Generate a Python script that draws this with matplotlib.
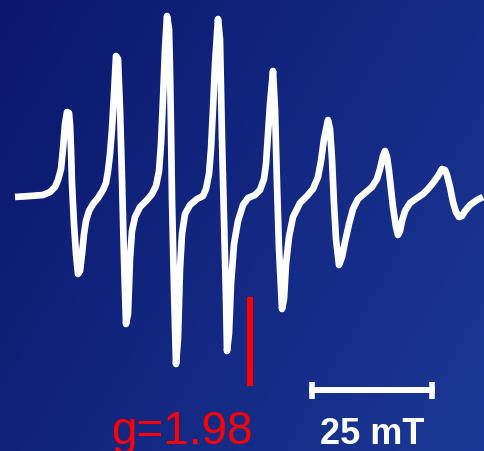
import numpy as np
import matplotlib
matplotlib.use("Agg")
import matplotlib.pyplot as plt

# Traced EPR derivative spectrum: (field position, pixel-height trace); baseline at 198
field = [15, 30, 43, 50, 55, 58, 61, 63, 65, 67, 69, 70, 71, 72, 74, 76, 78, 80, 82,
         84, 86, 89, 93, 98, 103, 106, 108, 110, 112, 114, 116, 118, 120, 122, 124,
         126, 128, 130, 132, 135, 140, 147, 152, 156, 159, 161, 163, 165, 167, 169,
         170, 171, 172, 174, 176, 178, 180, 182, 185, 190, 197, 203, 206, 209, 211,
         213, 215, 218, 220, 221, 222, 224, 226, 227, 229, 231, 234, 238, 243, 248,
         255, 260, 264, 266, 268, 270, 273, 275, 277, 279, 282, 284, 286, 289, 293,
         300, 307, 313, 318, 321, 324, 328, 330, 332, 334, 336, 339, 342, 345, 349,
         353, 358, 365, 372, 377, 380, 383, 385, 387, 389, 391, 393, 396, 398, 400,
         402, 405, 410, 417, 423, 428, 433, 438, 442, 445, 447, 450, 453, 456, 459,
         462, 465, 470, 477, 483]
trace_y = [198, 197, 196, 193, 188, 181, 170, 150, 125, 113, 114, 125, 150, 185,
           225, 255, 275, 272, 255, 235, 222, 212, 205, 199, 191, 184, 172, 155, 130,
           95, 57, 60, 110, 180, 260, 325, 315, 260, 232, 218, 208, 201, 195, 187,
           172, 145, 100, 50, 17, 30, 70, 130, 200, 290, 365, 340, 270, 235, 215, 206,
           200, 197, 190, 175, 150, 110, 65, 20, 40, 90, 140, 220, 300, 352, 335, 285,
           245, 222, 206, 199, 196, 191, 180, 165, 135, 105, 72, 110, 185, 250, 310,
           300, 265, 238, 218, 204, 197, 190, 178, 162, 140, 121, 130, 160, 205, 240,
           266, 258, 243, 225, 210, 200, 194, 188, 180, 170, 157, 152, 158, 172, 190,
           208, 228, 236, 232, 222, 212, 204, 199, 195, 190, 184, 177, 170, 171, 176,
           188, 203, 213, 218, 217, 212, 206, 201, 198]
baseline = 198
signal = [baseline - v for v in trace_y]

g_label = "g=1.98"
g_position = 250
scale_label = "25 mT"
scale_start = 309
scale_end = 435

W, H = 485, 452
fig = plt.figure(figsize=(W / 100, H / 100), dpi=100)
ax = fig.add_axes([0, 0, 1, 1])
ax.set_xlim(0, W)
ax.set_ylim(baseline - H, baseline)
ax.axis("off")

# background gradient
c0 = np.array([11, 23, 108]) / 255
c1 = np.array([27, 56, 150]) / 255
yy, xx = np.mgrid[0:1:200j, 0:1:200j]
t = 0.65 * xx + 0.35 * yy
img = c0[None, None, :] * (1 - t[..., None]) + c1[None, None, :] * t[..., None]
ax.imshow(img, extent=(0, W, baseline - H, baseline), aspect="auto", zorder=0,
          origin="upper", interpolation="bilinear")

ax.plot(field, signal, color="white", lw=4.8, solid_joinstyle="round",
        solid_capstyle="butt", zorder=3)

# g marker
ax.plot([g_position, g_position], [baseline - 298, baseline - 387], color="#ff0000",
        lw=4.3, solid_capstyle="butt", zorder=3)
ax.text(111, baseline - 444, g_label, color="#ff0000", fontsize=33,
        family="Liberation Sans", ha="left", va="baseline", zorder=4)

# scale bar
ybar = baseline - 391
ax.plot([scale_start, scale_end], [ybar, ybar], color="white", lw=4.3,
        solid_capstyle="butt", zorder=3)
for xe in (scale_start + 3, scale_end - 3):
    ax.plot([xe, xe], [baseline - 383, baseline - 400], color="white", lw=4.0,
            solid_capstyle="butt", zorder=3)
ax.text(320, baseline - 444, scale_label, color="white", fontsize=26,
        fontweight="bold", family="Liberation Sans", ha="left", va="baseline",
        zorder=4)

fig.savefig("out.png", dpi=100)
